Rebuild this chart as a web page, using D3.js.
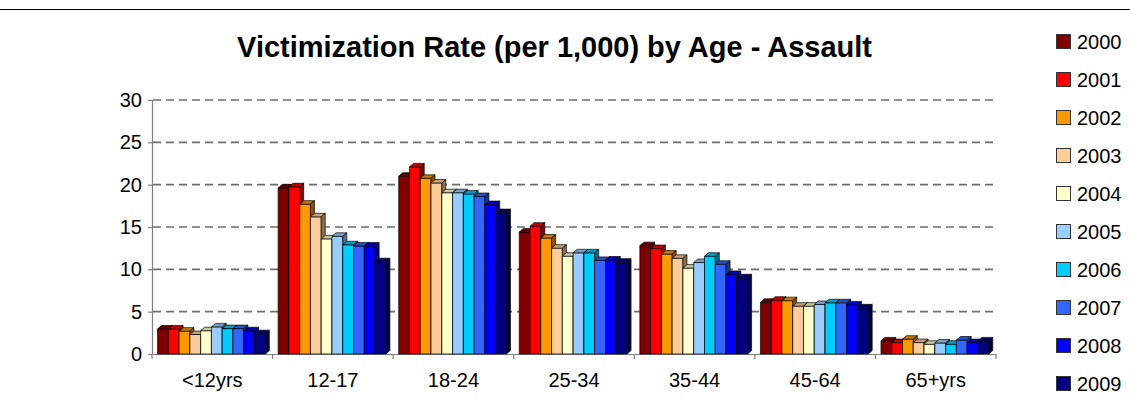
<!DOCTYPE html>
<html>
<head>
<meta charset="utf-8">
<script src="https://cdn.jsdelivr.net/npm/d3@7"></script>
<style>
  html, body { margin: 0; padding: 0; background: #fff; }
  svg { display: block; font-family: "Liberation Sans", Arial, sans-serif; }
</style>
</head>
<body>
<svg id="chart" width="1130" height="408"></svg>
<script>
const title = "Victimization Rate (per 1,000) by Age - Assault";
const categories = ["<12yrs", "12-17", "18-24", "25-34", "35-44", "45-64", "65+yrs"];
const years = ["2000", "2001", "2002", "2003", "2004", "2005", "2006", "2007", "2008", "2009"];
const colors = ["#800000", "#FF0000", "#FF9900", "#FFCC99", "#FFFFCC", "#99CCFF", "#00CCFF", "#3366FF", "#0000FF", "#000080"];
const yTicks = [0, 5, 10, 15, 20, 25, 30];

const v2000 = [2.95, 19.6, 21.0, 14.4, 12.8, 6.1, 1.55];
const v2001 = [2.95, 19.75, 22.1, 15.1, 12.45, 6.35, 1.35];
const v2002 = [2.7, 17.7, 20.75, 13.7, 11.8, 6.3, 1.75];
const v2003 = [2.3, 16.2, 20.2, 12.5, 11.3, 5.65, 1.35];
const v2004 = [2.75, 13.6, 19.05, 11.55, 10.15, 5.65, 1.15];
const v2005 = [3.2, 13.9, 19.05, 11.95, 10.8, 5.85, 1.3];
const v2006 = [3.0, 12.9, 18.9, 11.95, 11.55, 6.05, 1.15];
const v2007 = [3.0, 12.75, 18.6, 11.05, 10.6, 6.05, 1.65];
const v2008 = [2.75, 12.75, 17.65, 11.1, 9.4, 5.8, 1.35];
const v2009 = [2.4, 10.9, 16.7, 10.85, 9.0, 5.45, 1.55];

const seriesValues = [v2000, v2001, v2002, v2003, v2004, v2005, v2006, v2007, v2008, v2009];
const series = years.map((yr, i) => ({ year: yr, color: colors[i], values: seriesValues[i] }));

const svg = d3.select("#chart");

// top border
svg.append("line").attr("x1", 0).attr("x2", 1130).attr("y1", 9.5).attr("y2", 9.5)
  .attr("stroke", "#000").attr("stroke-width", 1);

// title
const t = svg.append("text").attr("x", 554.5).attr("y", 57).attr("text-anchor", "middle")
  .attr("font-weight", "bold").attr("font-size", 27).attr("fill", "#000").text(title);
const tw = t.node().getComputedTextLength();
if (tw > 0) t.attr("font-size", 27 * 635 / tw);

const x0 = d3.scaleBand().domain(categories).range([152, 996]).paddingInner(0).paddingOuter(0);
const bw = x0.bandwidth();
const x1 = d3.scaleBand().domain(years).range([bw * 0.046, bw * 0.94]);
const y = d3.scaleLinear().domain([0, 30]).range([354, 100]);

// gridlines
svg.append("g").selectAll("line").data(yTicks.filter(d => d > 0)).join("line")
  .attr("x1", 153).attr("x2", 997)
  .attr("y1", d => y(d)).attr("y2", d => y(d))
  .attr("stroke", "#6e6e6e").attr("stroke-width", 1.6).attr("stroke-dasharray", "8,5");

// y axis
const yAxis = svg.append("g").attr("transform", "translate(152,0)")
  .call(d3.axisLeft(y).tickValues(yTicks).tickSize(4).tickPadding(6).tickFormat(d3.format("d")));
yAxis.select(".domain").attr("stroke", "#808080").attr("stroke-width", 1.2);
yAxis.selectAll(".tick line").attr("stroke", "#808080").attr("stroke-width", 1.2);
yAxis.selectAll("text").attr("font-size", 20).attr("fill", "#000")
  .attr("font-family", "Liberation Sans, Arial, sans-serif");

// x axis
const xAxis = svg.append("g").attr("transform", "translate(0,354)")
  .call(d3.axisBottom(x0).tickSize(0).tickPadding(19).tickSizeOuter(0));
xAxis.select(".domain").attr("stroke", "#808080").attr("stroke-width", 1.2);
xAxis.selectAll("text").attr("font-size", 20).attr("fill", "#000")
  .attr("font-family", "Liberation Sans, Arial, sans-serif");
const bounds = categories.map(c => x0(c)).concat([x0(categories[categories.length - 1]) + bw]);
svg.append("g").selectAll("line").data(bounds).join("line")
  .attr("x1", d => d).attr("x2", d => d).attr("y1", 354).attr("y2", 359)
  .attr("stroke", "#808080").attr("stroke-width", 1.2);

// 3D bars
const dx = 4, dy = 3.5;
const barW = x1.bandwidth();
const gBars = svg.append("g");
categories.forEach((cat, ci) => {
  series.forEach(s => {
    const v = s.values[ci];
    const xl = x0(cat) + x1(s.year);
    const xr = xl + barW;
    const yt = y(v), yb = y(0);
    const c = d3.color(s.color);
    const g = gBars.append("g");
    g.append("polygon")
      .attr("points", [[xl, yb], [xl, yt], [xr, yt], [xr, yb]].join(" "))
      .attr("fill", s.color).attr("stroke", "#000").attr("stroke-width", 0.8).attr("stroke-opacity", 0.85);
    g.append("polygon")
      .attr("points", [[xl, yt], [xl + dx, yt - dy], [xr + dx, yt - dy], [xr, yt]].join(" "))
      .attr("fill", c.darker(0.7).formatHex()).attr("stroke", "#000").attr("stroke-width", 0.8).attr("stroke-opacity", 0.85);
    g.append("polygon")
      .attr("points", [[xr, yt], [xr + dx, yt - dy], [xr + dx, yb - dy], [xr, yb]].join(" "))
      .attr("fill", c.darker(1.7).formatHex()).attr("stroke", "#000").attr("stroke-width", 0.8).attr("stroke-opacity", 0.85);
  });
});

// legend
const leg = svg.append("g");
series.forEach((s, i) => {
  const cy = 41.5 + i * 38;
  leg.append("rect").attr("x", 1056.5).attr("y", cy - 7).attr("width", 14).attr("height", 14)
    .attr("fill", s.color).attr("stroke", "#333").attr("stroke-width", 1);
  leg.append("text").attr("x", 1077).attr("y", cy + 7.5).attr("font-size", 20).attr("fill", "#000").text(s.year);
});
</script>
</body>
</html>
